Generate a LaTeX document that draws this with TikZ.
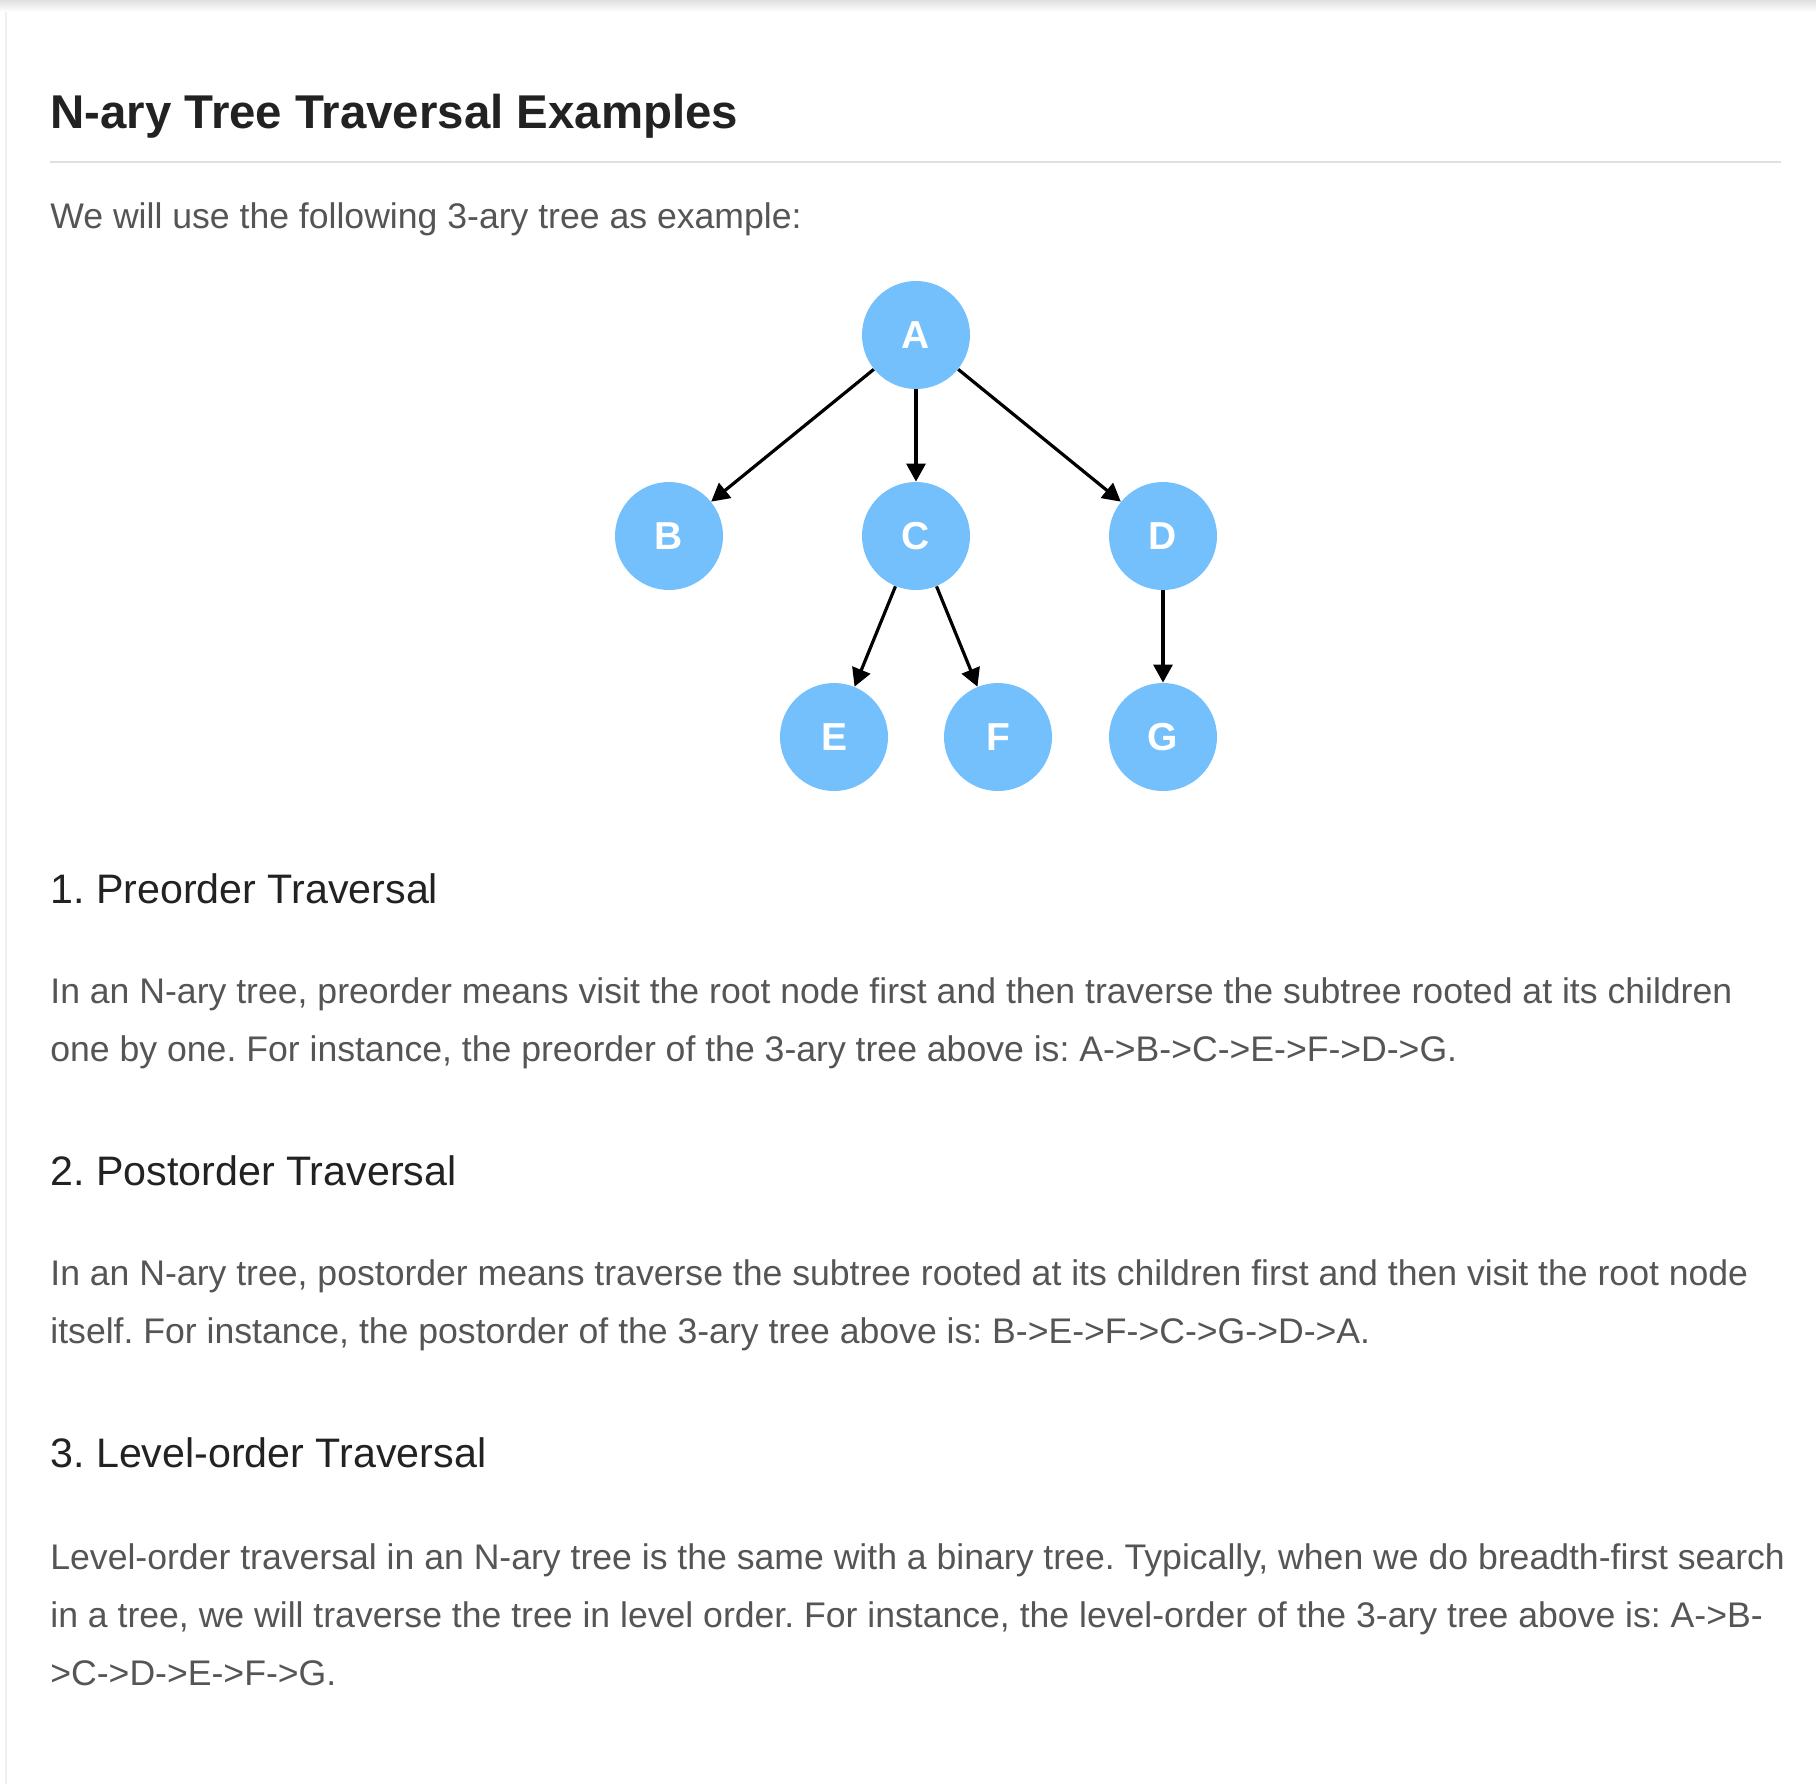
\documentclass[tikz,border=0pt]{standalone}
\usepackage{fontspec}
\setmainfont{Liberation Sans}
\usetikzlibrary{arrows.meta}
\definecolor{nodeblue}{HTML}{74C0FC}
\definecolor{bodygray}{HTML}{555555}
\definecolor{headdark}{HTML}{222222}
\frenchspacing
\tikzset{
  treenode/.style={circle, fill=nodeblue, minimum size=54pt, inner sep=0pt,
    text=white, font=\fontsize{19.5}{19.5}\selectfont\bfseries},
  link/.style={-{Triangle[length=9pt,width=9.5pt]}, line width=1.6pt, black},
  bodyline/.style={anchor=base west, inner sep=0pt, text=bodygray,
    font=\fontsize{17.8}{20}\selectfont},
  heading/.style={anchor=base west, inner sep=0pt, text=headdark,
    font=\fontsize{20.6}{24}\selectfont},
}
\begin{document}
\begin{tikzpicture}[x=0.5pt, y=-0.5pt]
  \useasboundingbox (0,0) rectangle (1816,1784);
  % page frame
  \fill[top color=black!12, bottom color=white] (0,0) rectangle (1816,12);
  \draw[black!6, line width=1pt] (6,12) -- (6,1784);

  % title
  \node[anchor=base west, inner sep=0pt, text=headdark,
    font=\fontsize{23.7}{28}\selectfont\bfseries] (title) at (50,128)
    {N-ary Tree Traversal Examples};
  \draw[black!12, line width=1pt] (50,162) -- (1781,162);
  \node[bodyline] (intro) at (50,228) {We will use the following 3-ary tree as example:};

  % the 3-ary tree
  \node[treenode] (A) at (916,335) {A};
  \node[treenode] (B) at (669,536) {B};
  \node[treenode] (C) at (916,536) {C};
  \node[treenode] (D) at (1163,536) {D};
  \node[treenode] (E) at (834,737) {E};
  \node[treenode] (F) at (998,737) {F};
  \node[treenode] (G) at (1163,737) {G};
  \foreach \u/\v in {A/B, A/C, A/D, C/E, C/F, D/G}
    \draw[link] (\u) -- (\v);

  % 1. preorder
  \node[heading] (pre) at (50,903) {1. Preorder Traversal};
  \node[bodyline] (pre1) at (50,1003) {In an N-ary tree, preorder means visit the root node first and then traverse the subtree rooted at its children};
  \node[bodyline] (pre2) at (50,1061) {one by one. For instance, the preorder of the 3-ary tree above is: A->B->C->E->F->D->G.};

  % 2. postorder
  \node[heading] (post) at (50,1185) {2. Postorder Traversal};
  \node[bodyline] (post1) at (50,1285) {In an N-ary tree, postorder means traverse the subtree rooted at its children first and then visit the root node};
  \node[bodyline] (post2) at (50,1343) {itself. For instance, the postorder of the 3-ary tree above is: B->E->F->C->G->D->A.};

  % 3. level-order
  \node[heading] (lvl) at (50,1467) {3. Level-order Traversal};
  \node[bodyline] (lvl1) at (50,1569) {Level-order traversal in an N-ary tree is the same with a binary tree. Typically, when we do breadth-first search};
  \node[bodyline] (lvl2) at (50,1627) {in a tree, we will traverse the tree in level order. For instance, the level-order of the 3-ary tree above is: A->B-};
  \node[bodyline] (lvl3) at (50,1685) {>C->D->E->F->G.};
\end{tikzpicture}
\end{document}
